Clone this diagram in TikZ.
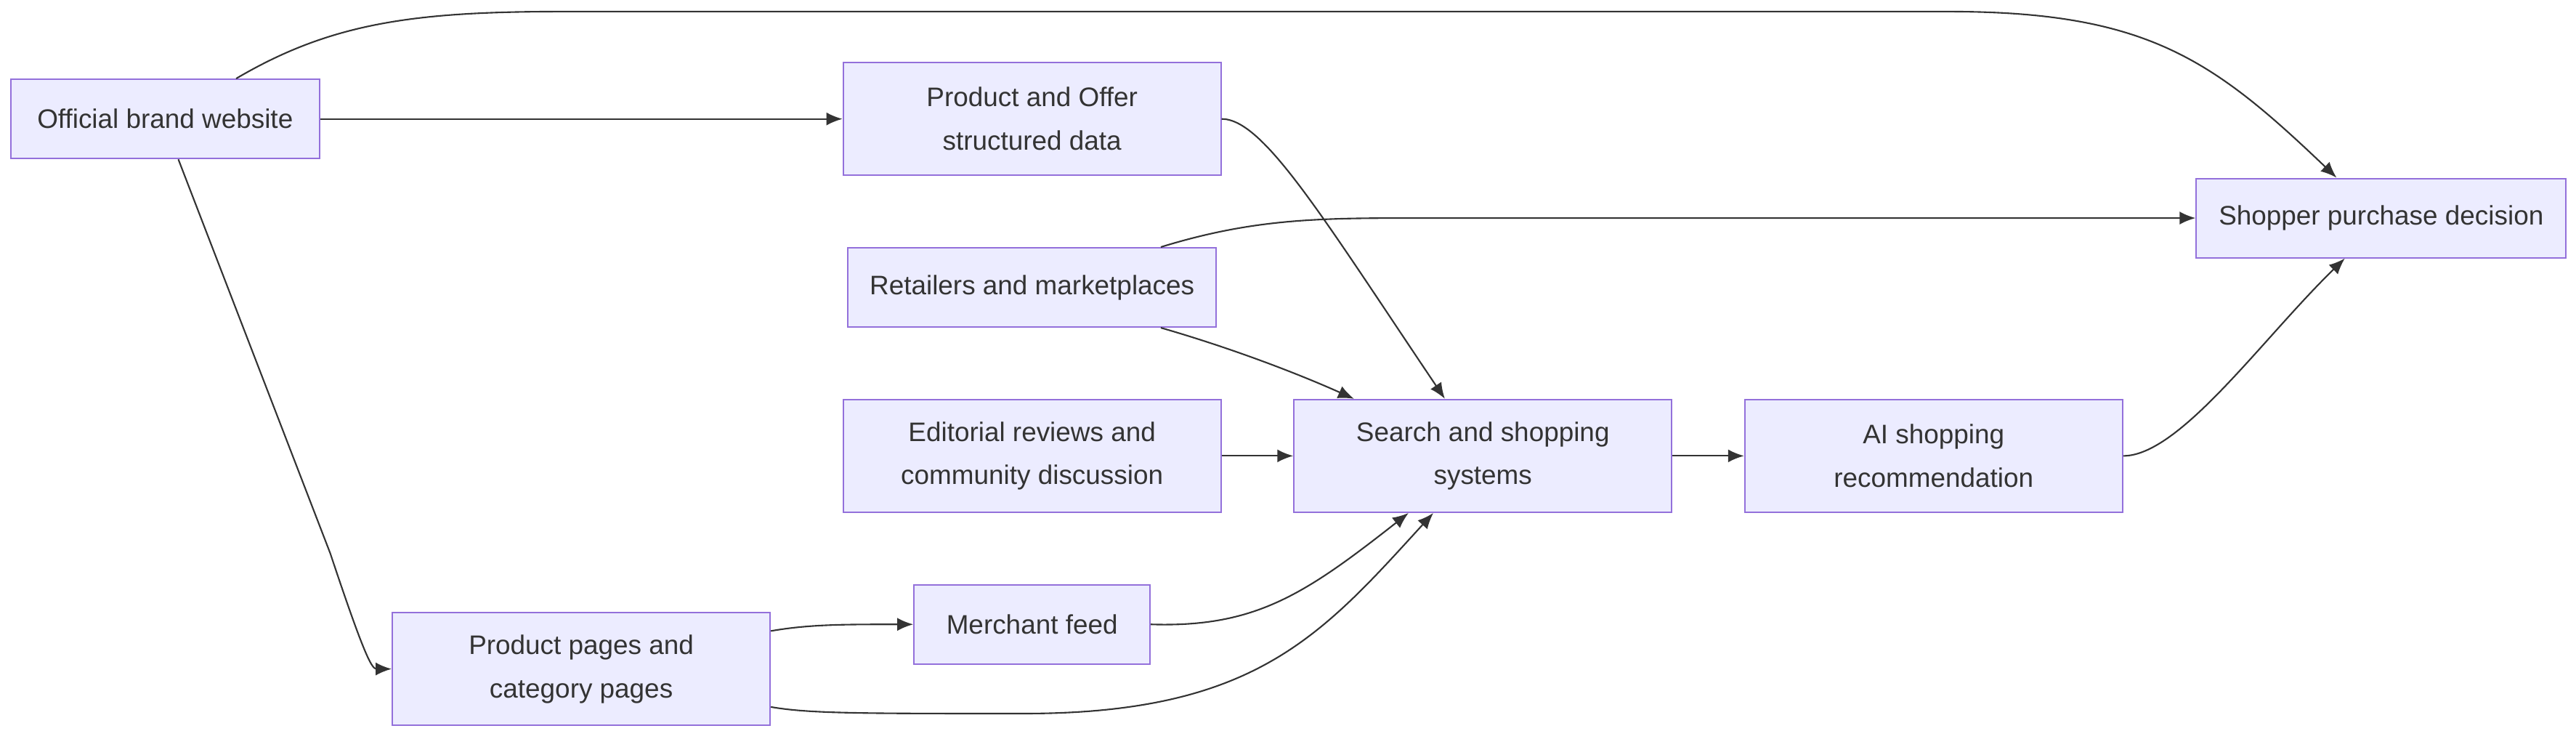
\documentclass[tikz,border=0pt]{standalone}
\usepackage{fontspec}
\setmainfont{Liberation Sans}
\usetikzlibrary{arrows.meta,calc}
\definecolor{boxfill}{HTML}{ECECFF}
\definecolor{boxline}{HTML}{9370DB}
\definecolor{edge}{HTML}{333333}
\tikzset{
  box/.style={draw=boxline,fill=boxfill,line width=0.6pt,align=center,inner sep=0pt,
    font=\fontsize{10.5}{17}\selectfont,text=edge},
  wide/.style={box,minimum width=5.2cm,minimum height=1.55cm},
  flat/.style={box,minimum height=1.09cm},
  arr/.style={draw=edge,line width=0.6pt,-{Latex[length=2.2mm,width=1.8mm]}}
}
\begin{document}
\begin{tikzpicture}[x=0.02273cm,y=-0.02273cm]
\useasboundingbox (0,0) rectangle (1560,447);
\node[flat,minimum width=4.25cm] (brand) at (100,72) {Official brand website};
\node[wide] (offer) at (625,72) {Product and Offer\\structured data};
\node[flat,minimum width=5.07cm] (retail) at (625,174) {Retailers and marketplaces};
\node[wide] (review) at (625,276) {Editorial reviews and\\community discussion};
\node[wide] (search) at (898,276) {Search and shopping\\systems};
\node[wide] (ai) at (1171,276) {AI shopping\\recommendation};
\node[flat,minimum width=5.09cm] (shopper) at (1442,132) {Shopper purchase decision};
\node[flat,minimum width=3.25cm] (feed) at (625,378) {Merchant feed};
\node[wide] (pages) at (352,405) {Product pages and\\category pages};

\draw[arr] ($(brand.north)+(43,0)$) .. controls (200,14) and (250,7) .. (340,7)
  -- (1180,7) .. controls (1300,7) and (1340,36) .. ($(shopper.north)+(-27,0)$);
\draw[arr] (brand) -- (offer);
\draw[arr] ($(brand.south)+(8,0)$) -- (200,335) .. controls (220,395) and (225,405) .. (pages.west);
\draw[arr] (offer.east) .. controls (765,72) and (800,130) .. ($(search.north)+(-23,0)$);
\draw[arr] ($(retail.north)+(78,0)$) .. controls (760,132) and (800,132) .. (860,132) -- (shopper.west);
\draw[arr] ($(retail.south)+(78,0)$) .. controls (750,212) and (790,228) .. ($(search.north)+(-78,0)$);
\draw[arr] (review) -- (search);
\draw[arr] (search) -- (ai);
\draw[arr] (ai.east) .. controls (1320,276) and (1370,205) .. ($(shopper.south)+(-22,0)$);
\draw[arr] ($(pages.east)+(0,-23)$) .. controls (490,378) and (510,378) .. (feed.west);
\draw[arr] (feed.east) .. controls (760,380) and (790,360) .. ($(search.south)+(-45,0)$);
\draw[arr] ($(pages.east)+(0,23)$) .. controls (490,432) and (520,432) .. (620,432)
  .. controls (760,432) and (800,385) .. ($(search.south)+(-30,0)$);
\end{tikzpicture}
\end{document}
